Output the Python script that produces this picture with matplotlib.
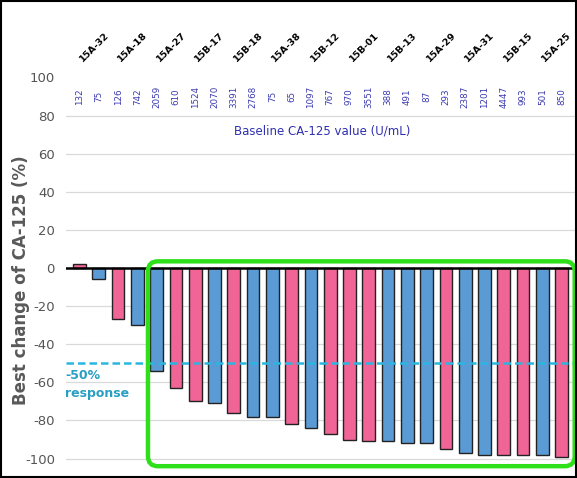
import matplotlib
matplotlib.use("Agg")
import matplotlib.pyplot as plt
from matplotlib.patches import FancyBboxPatch, Rectangle
import numpy as np

# Best change of CA-125 per patient, sorted from worst to best
best_change = [2, -6, -27, -30, -54, -63, -70, -71, -76, -78, -78, -82, -84,
               -87, -90, -91, -91, -92, -92, -95, -97, -98, -98, -98, -98, -99]
cohort = ["A", "B", "A", "B", "B", "A", "A", "B", "A", "B", "B", "A", "B",
          "A", "A", "A", "B", "B", "B", "A", "B", "B", "A", "A", "B", "A"]
baseline_ca125 = ["132", "75", "126", "742", "2059", "610", "1524", "2070",
                  "3391", "2768", "75", "65", "1097", "767", "970", "3551",
                  "388", "491", "87", "293", "2387", "1201", "4447", "993",
                  "501", "850"]
patient_ids = ["15A-32", "15A-18", "15A-27", "15B-17", "15B-18", "15A-38",
               "15B-12", "15B-01", "15B-13", "15A-29", "15A-31", "15B-15",
               "15A-25"]
y_ticks = [-100, -80, -60, -40, -20, 0, 20, 40, 60, 80, 100]
response_cut = -50

colors = {"A": "#F06595", "B": "#5B9BD5"}

W, H, DPI = 577, 478, 100
fig = plt.figure(figsize=(W / DPI, H / DPI), dpi=DPI)
ax = fig.add_axes([66 / W, 1 - 470 / H, (577 - 66) / W, (470 - 66) / H])

n = len(best_change)
x = np.arange(n)
ax.set_xlim(-0.7, n - 0.2)
ax.set_ylim(-106, 106)

# light horizontal grid
for t in y_ticks[:-1]:
    if t != 0:
        ax.axhline(t, color="#d9d9d9", lw=0.9, zorder=0)

ax.bar(x, best_change, width=0.66, color=[colors[c] for c in cohort],
       edgecolor="#222222", linewidth=1.0, zorder=3)
ax.axhline(0, color="black", lw=1.8, zorder=4)

# response threshold
ax.axhline(response_cut, color="#29B6E0", lw=1.8, ls=(0, (3, 1.6)), zorder=5)
ax.text(-0.75, response_cut - 3, "-50%\nresponse", color="#2A9FC4",
        fontsize=9, fontweight="bold", ha="left", va="top", linespacing=1.45,
        zorder=6)

# box around responders
first = next(i for i, v in enumerate(best_change) if v <= response_cut)
px_x = (ax.get_xlim()[1] - ax.get_xlim()[0]) / (577 - 66)
px_y = (ax.get_ylim()[1] - ax.get_ylim()[0]) / (470 - 66)
x0 = first - 0.45
x1 = n - 0.32
y0 = min(best_change) - 5
y1 = 3.5
box = FancyBboxPatch((x0, y0), x1 - x0, y1 - y0,
                     boxstyle="round,pad=0,rounding_size=%f" % (10 * px_x),
                     mutation_aspect=px_y / px_x,
                     fill=False, edgecolor="#2EE01A", linewidth=3.2,
                     zorder=7, clip_on=False)
ax.add_patch(box)

# baseline CA-125 values
for xi, s in zip(x, baseline_ca125):
    ax.text(xi, 90, s, rotation=90, ha="center", va="center",
            fontsize=6.3, color="#3A3AB0", zorder=6)
ax.text((n - 1) / 2 + 0.1, 72, "Baseline CA-125 value (U/mL)",
        ha="center", va="center", fontsize=8.5, color="#2F2FB0")

# patient ids over each pair of bars
for k, pid in enumerate(patient_ids):
    ax.text(2 * k + 0.75, 116, pid, rotation=45, ha="center", va="center",
            fontsize=6.8, fontweight="bold", color="black", clip_on=False)

ax.set_yticks(y_ticks)
ax.set_yticklabels([str(t) for t in y_ticks], fontsize=9.5, color="#555555")
ax.tick_params(axis="y", length=0, pad=8)
ax.set_xticks([])
for sp in ax.spines.values():
    sp.set_visible(False)

ax.set_ylabel("Best change of CA-125 (%)", fontsize=12, fontweight="bold",
              color="#595959")
ax.yaxis.set_label_coords(-(66 - 30) / (577 - 66), (470 - 280) / (470 - 66))

# outer frame
fig.patches.append(Rectangle((0.002, 0.002), 0.996, 0.996,
                             transform=fig.transFigure, fill=False,
                             edgecolor="black", linewidth=1.5))

fig.savefig("out.png", dpi=DPI)
